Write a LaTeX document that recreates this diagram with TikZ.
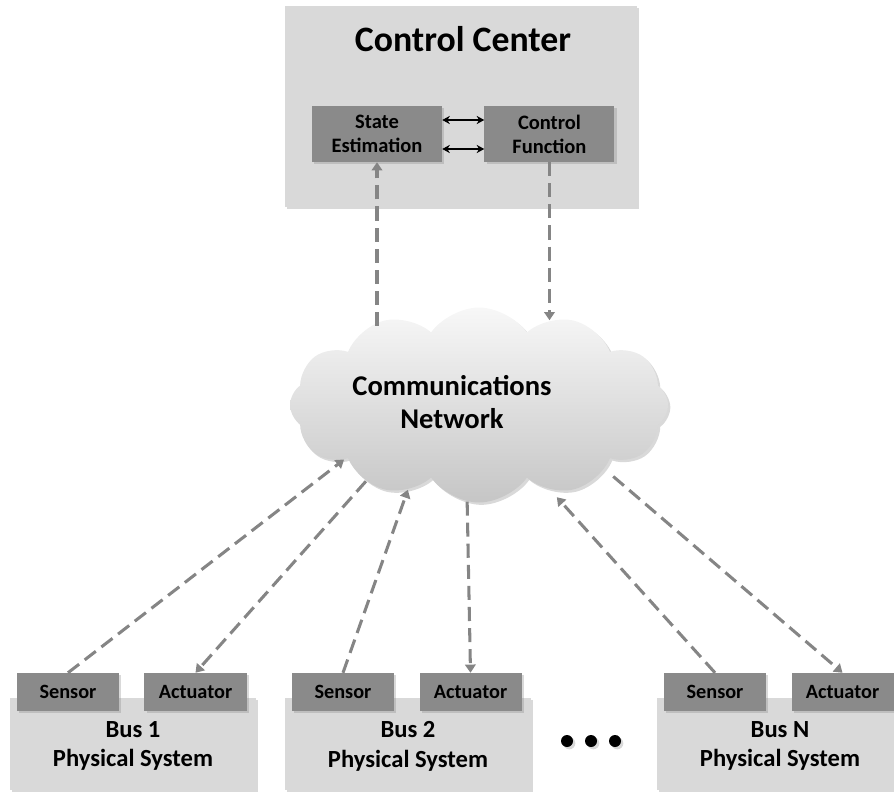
\documentclass[tikz,border=0pt]{standalone}
\usepackage{fontspec}
\setmainfont{Carlito}
\usetikzlibrary{arrows.meta,shapes.symbols,shadows,positioning}
\definecolor{panelgray}{HTML}{D9D9D9}
\definecolor{unitgray}{HTML}{8A8A8A}
\definecolor{linkgray}{HTML}{858585}

\begin{document}
\begin{tikzpicture}[x=0.03cm, y=-0.03cm,
		boxshadow/.style={drop shadow={shadow xshift=2pt, shadow yshift=-2pt, opacity=0.3}},
		panel/.style={fill=panelgray, boxshadow, inner sep=0pt, align=center},
		unit/.style={fill=unitgray, boxshadow, inner sep=0pt, align=center,
			minimum width=3.9cm, minimum height=1.68cm,
			font=\bfseries\fontsize{17.5}{20.5}\selectfont},
		device/.style={fill=unitgray, boxshadow, inner sep=0pt,
			minimum width=3.06cm, minimum height=1.14cm,
			font=\bfseries\fontsize{17.3}{20}\selectfont},
		bus/.style={panel, minimum width=7.38cm, minimum height=2.76cm,
			text depth=-0.38cm, font=\bfseries\fontsize{21}{25.5}\selectfont},
		link/.style={draw=linkgray, line width=2.6pt, dash pattern=on 12pt off 6pt,
			-{Triangle[length=7pt, width=9pt]}},
		pair/.style={black, line width=1.6pt, {Stealth[length=6.5pt, width=7pt]}-{Stealth[length=6.5pt, width=7pt]}}
		]
	\useasboundingbox (0,0) rectangle (894,795);

	% control center
	\node [panel, minimum width=10.56cm, minimum height=6.03cm] (cc) at (461,106.5) {};
	\node [font=\bfseries\fontsize{30.5}{36}\selectfont] (cctitle) at (463,39) {Control Center};
	\node [unit] (se) at (377,134) {State\\Estimation};
	\node [unit, right=1.26cm of se] (cf) {Control\\Function};
	\draw [pair] ([yshift=0.42cm]se.east) -- ([yshift=0.42cm]cf.west);
	\draw [pair] ([yshift=-0.45cm]se.east) -- ([yshift=-0.45cm]cf.west);

	% network
	\node [cloud, cloud puffs=12, cloud puff arc=110, aspect=1.94,
		minimum width=11.34cm, minimum height=5.85cm, inner sep=0pt,
		top color=gray!6, bottom color=gray!45, draw=none, boxshadow] (net) at (479,405) {};
	\node [align=center, font=\bfseries\fontsize{24.4}{28}\selectfont] (nettext) at (452,402) {Communications\\Network};

	\draw [link] (net.144 -| se.south) -- (se.south);
	\draw [link] (cf.south) -- (net.50 -| cf.south);

	% buses
	\foreach \x/\n in {133/1, 408/2, 780/N} {
		\node [bus] (bus\n) at (\x,744) {Bus \n\\Physical System};
		\node [device] (s\n) at (\x-65,692) {Sensor};
		\node [device] (a\n) at (\x+62.5,692) {Actuator};
	}

	\draw [link] (s1.north) -- (net.202);
	\draw [link] (net.214) -- (a1.north);
	\draw [link] (s2.north) -- (net.230);
	\draw [link] (net.263) -- (a2.north);
	\draw [link, shorten >=0.3cm] (sN.north) -- (net.310);
	\draw [link, shorten <=0.35cm] (net.333) -- (aN.north);

	% more buses
	\foreach \x [count=\i] in {567,591,615}
		\node [circle, fill=black, inner sep=0pt, minimum size=0.36cm, boxshadow] (dot\i) at (\x,741) {};
\end{tikzpicture}
\end{document}
